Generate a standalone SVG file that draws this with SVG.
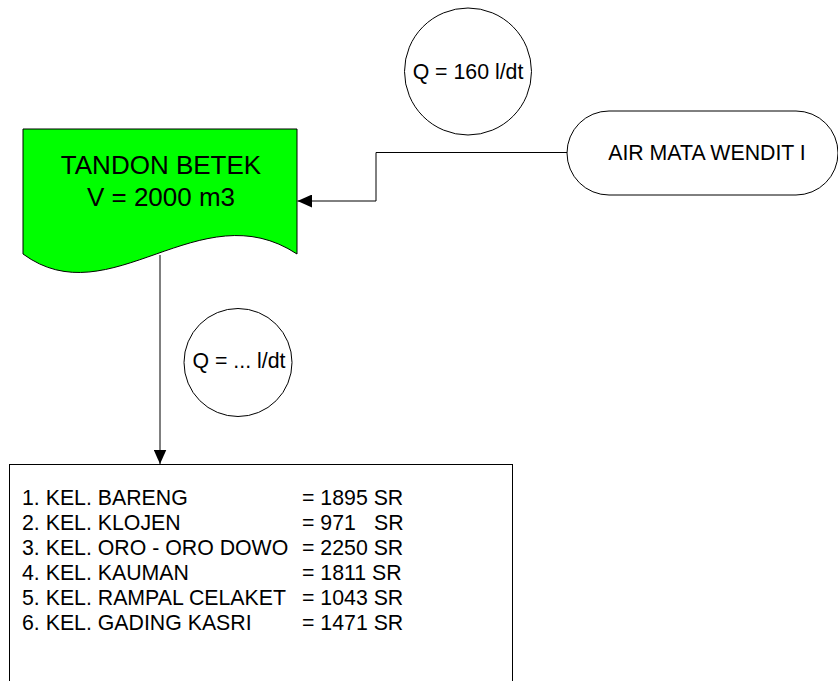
<svg xmlns="http://www.w3.org/2000/svg" width="838" height="681" viewBox="0 0 838 681">
<style>
text{font-family:"Liberation Sans",Arial,sans-serif;fill:#000;font-size:21.3px}
.ln{fill:none;stroke:#000;stroke-width:1}
.sh{stroke:#000;stroke-width:1}
</style>
<defs>
<marker id="ah" markerWidth="15" markerHeight="13" refX="14.5" refY="6.5" orient="auto" markerUnits="userSpaceOnUse">
<path d="M0,0 L14.5,6.5 L0,13 Z" fill="#000"/>
</marker>
</defs>
<rect width="838" height="681" fill="#fff"/>
<g id="connectors">
<path class="ln" d="M567,152.5 H376 V201 H297.5" marker-end="url(#ah)"/>
<path class="ln" d="M160,255 V464" marker-end="url(#ah)"/>
</g>
<g id="tandon">
<path class="sh" fill="#00ff00" d="M23,129 H297 V254 C200,190 110,318 23,254 Z"/>
<text x="161" y="174" style="font-size:26px" text-anchor="middle">TANDON BETEK</text>
<text x="161" y="206" style="font-size:26px" text-anchor="middle">V = 2000 m3</text>
</g>
<g id="air">
<rect class="sh" fill="#fff" x="567" y="111" width="271" height="84" rx="42" ry="42"/>
<text x="707" y="160" text-anchor="middle">AIR MATA WENDIT I</text>
</g>
<g id="q160">
<circle class="sh" fill="#fff" cx="468" cy="71.5" r="63.5"/>
<text x="468" y="79" text-anchor="middle">Q = 160 l/dt</text>
</g>
<g id="qdots">
<circle class="sh" fill="#fff" cx="238" cy="362.5" r="54"/>
<text x="239" y="368" text-anchor="middle">Q = ... l/dt</text>
</g>
<g id="kelurahan">
<rect class="sh" fill="#fff" x="9.5" y="464.5" width="503" height="230"/>
<text x="22" y="505">1. KEL. BARENG</text>
<text x="302" y="505">= 1895 SR</text>
<text x="22" y="530">2. KEL. KLOJEN</text>
<text x="302" y="530">= 971<tspan x="374">SR</tspan></text>
<text x="22" y="555">3. KEL. ORO - ORO DOWO</text>
<text x="302" y="555">= 2250 SR</text>
<text x="22" y="580">4. KEL. KAUMAN</text>
<text x="302" y="580">= 1811 SR</text>
<text x="22" y="605">5. KEL. RAMPAL CELAKET</text>
<text x="302" y="605">= 1043 SR</text>
<text x="22" y="630">6. KEL. GADING KASRI</text>
<text x="302" y="630">= 1471 SR</text>
</g>
</svg>
